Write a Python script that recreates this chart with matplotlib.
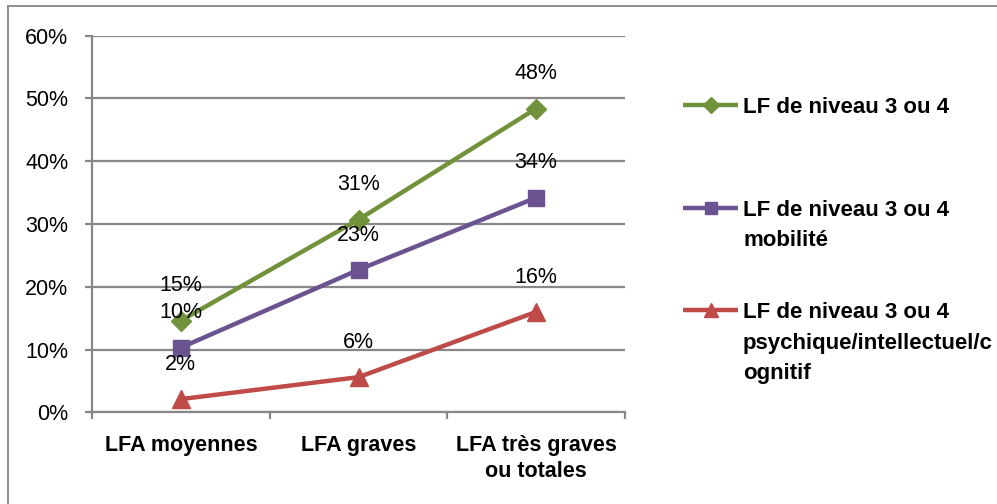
import matplotlib
matplotlib.use("Agg")
import matplotlib.pyplot as plt
from matplotlib.lines import Line2D
from matplotlib.patches import Rectangle
from matplotlib.ticker import FixedLocator, PercentFormatter

plt.rcParams['font.family'] = ['Liberation Sans', 'DejaVu Sans']

categories = ["LFA moyennes", "LFA graves", "LFA très graves\nou totales"]
series_names = [
    ["LF de niveau 3 ou 4"],
    ["LF de niveau 3 ou 4", "mobilité"],
    ["LF de niveau 3 ou 4", "psychique/intellectuel/c", "ognitif"],
]
niveau_34 = [14.6, 30.7, 48.4]
mobilite = [10.3, 22.7, 34.2]
psychique = [2.1, 5.6, 16.0]
y_ticks = [0, 10, 20, 30, 40, 50, 60]

colors = ["#71923A", "#6A5390", "#BE4B48"]
markers = ["D", "s", "^"]
msizes = [10, 11, 12.5]
values = [niveau_34, mobilite, psychique]

W, H = 997, 504
fig = plt.figure(figsize=(W / 100, H / 100), dpi=100)


def fx(px):
    return px / W


def fy(py):
    return 1 - py / H


ax = fig.add_axes([fx(92), fy(412.3), fx(625) - fx(92), fy(35.7) - fy(412.3)])

x = list(range(len(categories)))
lines = []
for vals, c, m, ms in zip(values, colors, markers, msizes):
    ln, = ax.plot(x, vals, color=c, lw=3.2, marker=m, ms=ms,
                  markeredgecolor=c, markerfacecolor=c, zorder=3,
                  solid_capstyle='butt')
    lines.append(ln)
    for xi, v in zip(x, vals):
        ax.annotate(f"{v:.0f}%", (xi, v), xytext=(0, 25),
                    textcoords='offset points', ha='center', va='center',
                    fontsize=15.5, color='black', zorder=4)

grid_c = "#888888"
ax.set_xlim(-0.5, len(categories) - 0.5)
ax.set_ylim(0, 60)
ax.yaxis.set_major_locator(FixedLocator(y_ticks))
ax.yaxis.set_major_formatter(PercentFormatter(decimals=0))
ax.grid(axis='y', color=grid_c, lw=1.6, zorder=0)
ax.set_axisbelow(True)

ax.set_xticks(x)
ax.set_xticklabels(categories, fontsize=15.5, fontweight='bold', linespacing=1.3)
ax.set_xticks([i - 0.5 for i in range(len(categories) + 1)], minor=True)
ax.tick_params(axis='x', which='major', length=0, pad=16.5)
ax.tick_params(axis='x', which='minor', length=5, width=1.6, color=grid_c,
               direction='out')
ax.tick_params(axis='y', which='major', length=5, width=1.6, color=grid_c,
               direction='out', labelsize=15.5, pad=12)

for s in ['top', 'right']:
    ax.spines[s].set_visible(False)
for s in ['left', 'bottom']:
    ax.spines[s].set_color(grid_c)
    ax.spines[s].set_linewidth(1.6)

# Chart frame
fig.add_artist(Rectangle((fx(8), fy(520)), fx(1020) - fx(8), fy(6) - fy(520),
                         transform=fig.transFigure, fill=False,
                         edgecolor="#8c8c8c", lw=1.4))

# Legend entries
handle_y = [105, 208, 310]
for ln, names, hy in zip(lines, series_names, handle_y):
    fig.add_artist(Line2D([fx(683), fx(738)], [fy(hy), fy(hy)],
                          transform=fig.transFigure, color=ln.get_color(),
                          lw=ln.get_linewidth(), solid_capstyle='butt'))
    fig.add_artist(Line2D([fx(710.5)], [fy(hy)], transform=fig.transFigure,
                          marker=ln.get_marker(), ms=ln.get_markersize() * 0.85,
                          color=ln.get_color(), lw=0))
    for k, name in enumerate(names):
        fig.text(fx(743), fy(hy + 8 + 30.5 * k), name, fontsize=16,
                 fontweight='bold', ha='left', va='baseline')

fig.savefig("out.png", dpi=100)
